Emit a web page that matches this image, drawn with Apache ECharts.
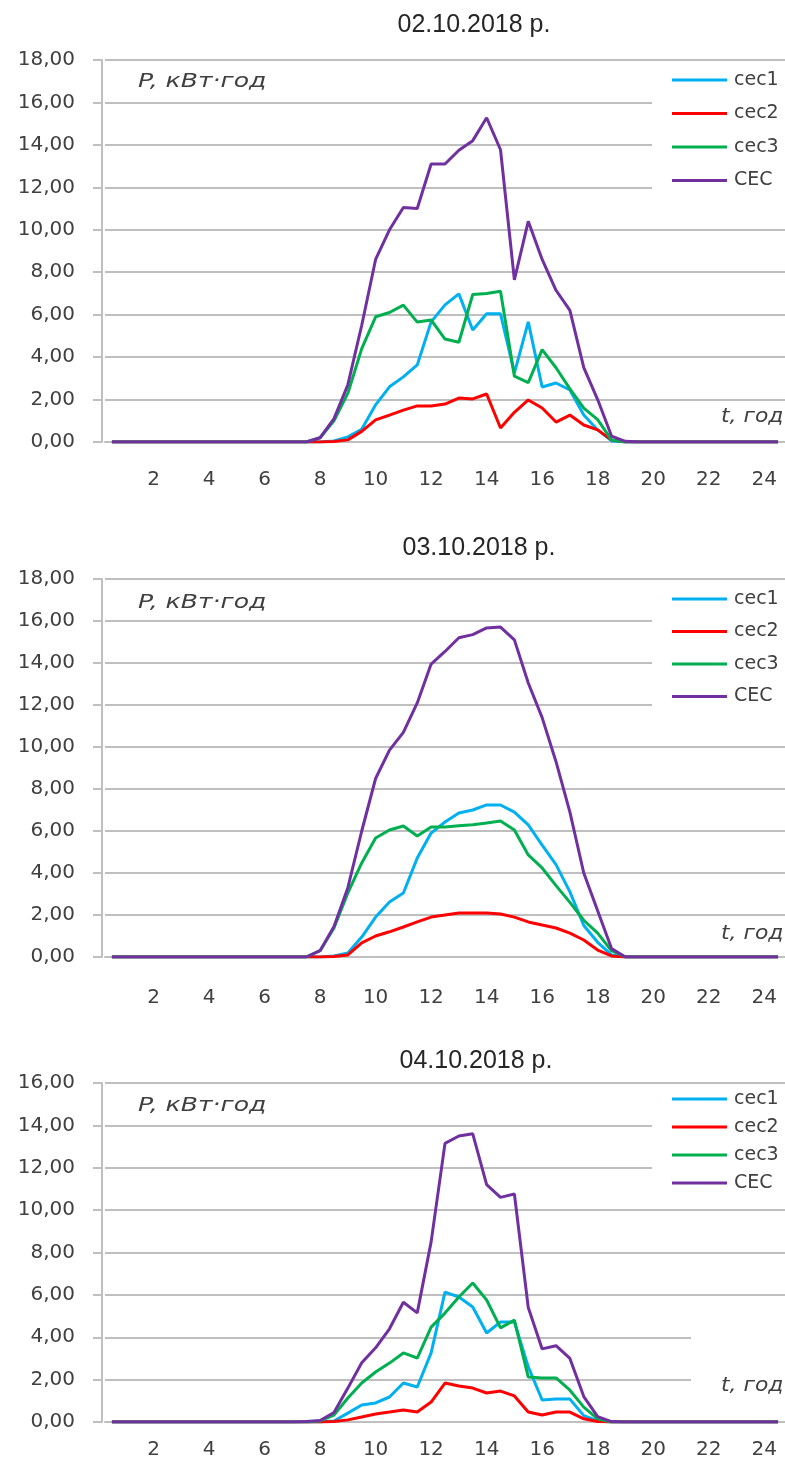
<!DOCTYPE html>
<html><head><meta charset="utf-8">
<script src="https://cdn.jsdelivr.net/npm/echarts@6/dist/echarts.min.js"></script>
<style>html,body{margin:0;padding:0;background:#fff}#c{width:785px;height:1463px}</style>
</head><body><div id="c"></div>
<script>
var hours = ['0.5','1','1.5','2','2.5','3','3.5','4','4.5','5','5.5','6','6.5','7','7.5','8','8.5','9','9.5','10','10.5','11','11.5','12','12.5','13','13.5','14','14.5','15','15.5','16','16.5','17','17.5','18','18.5','19','19.5','20','20.5','21','21.5','22','22.5','23','23.5','24','24.5'];
var titles = ['02.10.2018 р.', '03.10.2018 р.', '04.10.2018 р.'];
var seriesNames = ['сес1', 'сес2', 'сес3', 'СЕС'];
var yMax = [18, 18, 16];

// 02.10.2018
var d1_ses1 = [0,0,0,0,0,0,0,0,0,0,0,0,0,0,0,0,0.05,0.24,0.6,1.75,2.6,3.07,3.63,5.66,6.46,6.98,5.28,6.04,6.04,3.25,5.66,2.59,2.78,2.45,1.27,0.57,0.05,0,0,0,0,0,0,0,0,0,0,0,0];
var d1_ses2 = [0,0,0,0,0,0,0,0,0,0,0,0,0,0,0,0,0.02,0.1,0.5,1.04,1.27,1.5,1.7,1.7,1.79,2.07,2.03,2.26,0.66,1.4,1.98,1.6,0.94,1.27,0.8,0.57,0.1,0,0,0,0,0,0,0,0,0,0,0,0];
var d1_ses3 = [0,0,0,0,0,0,0,0,0,0,0,0,0,0,0,0.2,1.0,2.3,4.4,5.9,6.1,6.45,5.65,5.75,4.85,4.7,6.95,7.0,7.1,3.1,2.8,4.35,3.5,2.5,1.6,1.05,0.1,0,0,0,0,0,0,0,0,0,0,0,0];
var d1_ses  = [0,0,0,0,0,0,0,0,0,0,0,0,0,0,0,0.2,1.1,2.7,5.5,8.6,10.0,11.05,11.0,13.1,13.1,13.75,14.2,15.28,13.77,7.64,10.4,8.6,7.15,6.2,3.5,2.0,0.28,0.03,0,0,0,0,0,0,0,0,0,0,0];

// 03.10.2018
var d2_ses1 = [0,0,0,0,0,0,0,0,0,0,0,0,0,0,0,0,0.05,0.19,0.95,1.9,2.62,3.05,4.71,5.9,6.43,6.86,7.0,7.24,7.24,6.9,6.29,5.33,4.4,3.1,1.5,0.7,0.1,0,0,0,0,0,0,0,0,0,0,0,0];
var d2_ses2 = [0,0,0,0,0,0,0,0,0,0,0,0,0,0,0,0,0.02,0.1,0.67,1.0,1.2,1.43,1.67,1.9,2.0,2.1,2.1,2.1,2.05,1.9,1.67,1.52,1.38,1.14,0.81,0.33,0.05,0,0,0,0,0,0,0,0,0,0,0,0];
var d2_ses3 = [0,0,0,0,0,0,0,0,0,0,0,0,0,0,0,0.3,1.38,3.05,4.48,5.67,6.05,6.24,5.76,6.19,6.19,6.25,6.3,6.38,6.48,6.05,4.86,4.24,3.4,2.6,1.75,1.14,0.3,0,0,0,0,0,0,0,0,0,0,0,0];
var d2_ses  = [0,0,0,0,0,0,0,0,0,0,0,0,0,0,0,0.3,1.45,3.3,6.0,8.5,9.85,10.7,12.1,13.95,14.55,15.2,15.35,15.67,15.71,15.1,13.05,11.4,9.3,6.9,4.0,2.2,0.4,0,0,0,0,0,0,0,0,0,0,0,0];

// 04.10.2018
var d3_ses1 = [0,0,0,0,0,0,0,0,0,0,0,0,0,0,0,0,0.05,0.42,0.8,0.9,1.18,1.84,1.65,3.26,6.13,5.9,5.43,4.2,4.72,4.72,2.6,1.04,1.08,1.08,0.3,0.05,0,0,0,0,0,0,0,0,0,0,0,0,0];
var d3_ses2 = [0,0,0,0,0,0,0,0,0,0,0,0,0,0,0,0,0.02,0.1,0.24,0.38,0.47,0.57,0.47,0.94,1.84,1.7,1.6,1.37,1.46,1.23,0.47,0.33,0.47,0.47,0.15,0.02,0,0,0,0,0,0,0,0,0,0,0,0,0];
var d3_ses3 = [0,0,0,0,0,0,0,0,0,0,0,0,0,0,0,0.05,0.33,1.13,1.84,2.36,2.78,3.26,3.02,4.48,5.14,5.9,6.56,5.76,4.44,4.81,2.12,2.08,2.08,1.5,0.7,0.15,0,0,0,0,0,0,0,0,0,0,0,0,0];
var d3_ses  = [0,0,0,0,0,0,0,0,0,0,0,0,0,0,0.02,0.07,0.45,1.6,2.8,3.5,4.4,5.65,5.15,8.5,13.15,13.5,13.6,11.2,10.6,10.76,5.4,3.45,3.6,3.0,1.2,0.25,0.02,0,0,0,0,0,0,0,0,0,0,0,0];

var data = [[d1_ses1,d1_ses2,d1_ses3,d1_ses],[d2_ses1,d2_ses2,d2_ses3,d2_ses],[d3_ses1,d3_ses2,d3_ses3,d3_ses]];
var colors = ['#00B0F0', '#FF0000', '#00B050', '#7030A0'];

var layout = [
  {top: 60, height: 382, titleTop: 8, titleX: 469, legendTop: 66, itemGap: 13.5, pY: 73, tY: 408, labelMargin: 28},
  {top: 579, height: 378, titleTop: 531, titleX: 474, legendTop: 585, itemGap: 12.5, pY: 594, tY: 925, labelMargin: 31},
  {top: 1083, height: 339, titleTop: 1044, titleX: 471, legendTop: 1085, itemGap: 8, pY: 1097, tY: 1377, labelMargin: 18}
];
var gray = '#BFBFBF', txt = '#404040';

var grids = [], xAxes = [], yAxes = [], series = [], titleArr = [], legends = [], graphics = [];
layout.forEach(function (L, g) {
  grids.push({left: 105, width: 680, top: L.top, height: L.height});
  titleArr.push({text: titles[g], left: L.titleX, top: L.titleTop, textAlign: 'center',
    textStyle: {fontFamily: 'Liberation Sans', fontSize: 25, fontWeight: 'normal', color: '#262626'}});
  xAxes.push({type: 'category', gridIndex: g, data: hours, boundaryGap: true,
    axisLine: {lineStyle: {color: gray, width: 2}},
    axisTick: {interval: 0, length: 6, lineStyle: {color: gray, width: 2}},
    axisLabel: {interval: function (i, v) { var n = parseFloat(v); return n % 2 === 0; },
      margin: L.labelMargin, fontFamily: 'DejaVu Sans', fontSize: 20, color: txt},
    splitLine: {show: false}});
  yAxes.push({type: 'value', gridIndex: g, min: 0, max: yMax[g], interval: 2, offset: 3,
    axisLine: {show: true, lineStyle: {color: gray, width: 2}},
    axisTick: {show: true, length: 9, lineStyle: {color: gray, width: 2}},
    axisLabel: {margin: 27, fontFamily: 'DejaVu Sans', fontSize: 20, color: txt,
      formatter: function (v) { return v.toFixed(2).replace('.', ','); }},
    splitLine: {lineStyle: {color: gray, width: 2}}});
  seriesNames.forEach(function (nm, s) {
    series.push({type: 'line', name: nm, xAxisIndex: g, yAxisIndex: g, data: data[g][s],
      symbol: 'none', smooth: false, color: colors[s], lineStyle: {width: 3, color: colors[s]},
      z: 2 + (s === 3 ? 1 : 0)});
  });
  legends.push({data: seriesNames, orient: 'vertical', left: 652, top: L.legendTop,
    icon: 'rect', itemWidth: 55, itemHeight: 3, itemGap: L.itemGap,
    backgroundColor: '#fff', padding: [4, 10, 4, 20],
    textStyle: {fontFamily: 'DejaVu Sans', fontSize: 19, color: txt, lineHeight: 20, padding: [0, 0, 0, 2]}});
  if (g === 2) {
    graphics.push({type: 'rect', shape: {x: 691, y: 1330, width: 94, height: 71}, style: {fill: '#fff'}, z: 1});
  }
  graphics.push({type: 'text', x: 138, y: L.pY, scaleX: 1.32, z: 5, style: {text: 'P, кВт·год', font: 'italic 19px "DejaVu Sans"', fill: txt}});
  graphics.push({type: 'text', x: 721, y: L.tY, scaleX: 1.15, z: 5, style: {text: 't, год', font: 'italic 19px "DejaVu Sans"', fill: txt}});
});

var chart = echarts.init(document.getElementById('c'));
chart.setOption({
  animation: false,
  backgroundColor: '#fff',
  title: titleArr,
  legend: legends,
  grid: grids,
  xAxis: xAxes,
  yAxis: yAxes,
  series: series,
  graphic: graphics
});
</script></body></html>
